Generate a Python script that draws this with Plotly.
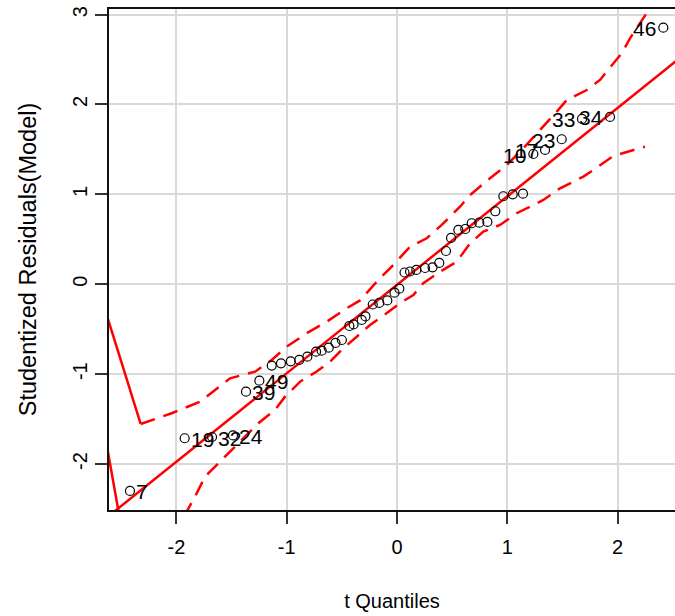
import plotly.graph_objects as go

# ---- data ----
t_quantiles = [-2.421, -1.925, -1.677, -1.487, -1.369, -1.248, -1.136, -1.052, -0.964, -0.886,
               -0.813, -0.734, -0.683, -0.619, -0.558, -0.500, -0.432, -0.394, -0.320, -0.286,
               -0.220, -0.161, -0.088, -0.023, 0.021, 0.068, 0.118, 0.175, 0.254, 0.322,
               0.383, 0.444, 0.490, 0.556, 0.619, 0.677, 0.746, 0.819, 0.891, 0.964,
               1.049, 1.142, 1.236, 1.342, 1.493, 1.677, 1.931, 2.414]
stud_resid = [-2.299, -1.713, -1.699, -1.682, -1.195, -1.072, -0.905, -0.879, -0.857, -0.842,
              -0.805, -0.750, -0.739, -0.705, -0.653, -0.620, -0.464, -0.447, -0.397, -0.358,
              -0.225, -0.208, -0.180, -0.093, -0.049, 0.131, 0.142, 0.159, 0.181, 0.189,
              0.237, 0.370, 0.515, 0.604, 0.615, 0.679, 0.685, 0.693, 0.812, 0.979,
              1.001, 1.008, 1.449, 1.494, 1.613, 1.839, 1.861, 2.854]
point_ids = ["7", "19", "32", "24", "39", "49", "", "", "", "",
             "", "", "", "", "", "", "", "", "", "",
             "", "", "", "", "", "", "", "", "", "",
             "", "", "", "", "", "", "", "", "", "",
             "", "", "10", "17", "23", "33", "34", "46"]

ref_intercept = -0.006
ref_slope = 0.984

upper_x = [-2.324, -2.043, -1.786, -1.514, -1.287, -1.136, -1.000, -0.819, -0.637, -0.456,
           -0.335, -0.184, -0.034, 0.118, 0.269, 0.405, 0.571, 0.662, 0.843, 0.995,
           1.145, 1.326, 1.448, 1.539, 1.720, 1.840, 2.037, 2.112, 2.264, 2.312]
upper_y = [-1.554, -1.435, -1.306, -1.046, -0.972, -0.842, -0.694, -0.545, -0.416, -0.267,
           -0.180, 0.029, 0.215, 0.418, 0.512, 0.660, 0.863, 0.993, 1.179, 1.327,
           1.513, 1.753, 1.920, 2.050, 2.161, 2.273, 2.570, 2.736, 3.014, 3.107]
lower_x = [-1.931, -1.831, -1.741, -1.620, -1.439, -1.257, -1.106, -1.015, -0.879, -0.728,
           -0.607, -0.487, -0.365, -0.245, -0.127, 0.027, 0.148, 0.238, 0.390, 0.541,
           0.662, 0.782, 0.934, 1.085, 1.206, 1.326, 1.478, 1.689, 1.780, 1.931,
           1.992, 2.248]
lower_y = [-2.580, -2.363, -2.140, -1.991, -1.769, -1.546, -1.398, -1.250, -1.083, -0.970,
           -0.861, -0.712, -0.583, -0.453, -0.353, -0.211, -0.119, 0.011, 0.140, 0.251,
           0.456, 0.585, 0.660, 0.790, 0.863, 0.938, 1.068, 1.197, 1.271, 1.402,
           1.438, 1.531]
seg_a_x = [-2.62, -2.324]
seg_a_y = [-0.388, -1.554]
seg_b_x = [-2.63, -2.50]
seg_b_y = [-1.801, -2.696]

x_ticks = [-2, -1, 0, 1, 2]
y_ticks = [-2, -1, 0, 1, 2, 3]
x_title = "t Quantiles"
y_title = "Studentized Residuals(Model)"

FONT = "Liberation Sans, Arial, sans-serif"
RED = "#FF0000"
DASH = "15px,9px"

fig = go.Figure()

line_x = [-3.0, 3.0]
line_y = [ref_intercept + ref_slope * v for v in line_x]
fig.add_trace(go.Scatter(x=line_x, y=line_y, mode="lines",
                         line=dict(color=RED, width=2.5), hoverinfo="skip"))
fig.add_trace(go.Scatter(x=upper_x, y=upper_y, mode="lines",
                         line=dict(color=RED, width=2.5, dash=DASH), hoverinfo="skip"))
fig.add_trace(go.Scatter(x=lower_x, y=lower_y, mode="lines",
                         line=dict(color=RED, width=2.5, dash=DASH), hoverinfo="skip"))
fig.add_trace(go.Scatter(x=seg_a_x, y=seg_a_y, mode="lines",
                         line=dict(color=RED, width=2.5), hoverinfo="skip"))
fig.add_trace(go.Scatter(x=seg_b_x, y=seg_b_y, mode="lines",
                         line=dict(color=RED, width=2.5), hoverinfo="skip"))

fig.add_trace(go.Scatter(x=t_quantiles, y=stud_resid, mode="markers",
                         marker=dict(symbol="circle-open", size=9, color="black",
                                     line=dict(width=1.2, color="black"))))

for x, y, lab in zip(t_quantiles, stud_resid, point_ids):
    if not lab:
        continue
    right = y < 0
    fig.add_annotation(x=x, y=y, text=lab, showarrow=False,
                       xanchor="left" if right else "right", yanchor="middle",
                       xshift=4 if right else -5, yshift=-1,
                       font=dict(family=FONT, size=21, color="black"))

fig.update_layout(
    width=675, height=616,
    margin=dict(l=109, r=0, t=9, b=106),
    paper_bgcolor="white", plot_bgcolor="white",
    showlegend=False,
    font=dict(family=FONT, size=20, color="black"),
)
fig.update_xaxes(range=[-2.611, 2.520], tickvals=x_ticks, ticktext=[str(v) for v in x_ticks],
                 ticks="outside", ticklen=12, tickwidth=1.5, tickcolor="#333333",
                 ticklabelstandoff=6,
                 showgrid=True, gridcolor="#D9D9D9", gridwidth=1.5, zeroline=False,
                 showline=True, linecolor="#111111", linewidth=1.5, mirror=True,
                 tickfont=dict(size=20, color="black"),
                 title=dict(text=x_title, font=dict(size=20, color="black"), standoff=37))
fig.update_yaxes(range=[-2.511, 3.062], tickvals=y_ticks, ticktext=[str(v) for v in y_ticks],
                 ticks="outside", ticklen=12, tickwidth=1.5, tickcolor="#333333",
                 tickangle=-90,
                 showgrid=True, gridcolor="#D9D9D9", gridwidth=1.5, zeroline=False,
                 showline=True, linecolor="#111111", linewidth=1.5, mirror=False,
                 tickfont=dict(size=20, color="black"),
                 title=dict(text=y_title, font=dict(size=23.5, color="black"), standoff=26))

fig.write_html("out.html")
